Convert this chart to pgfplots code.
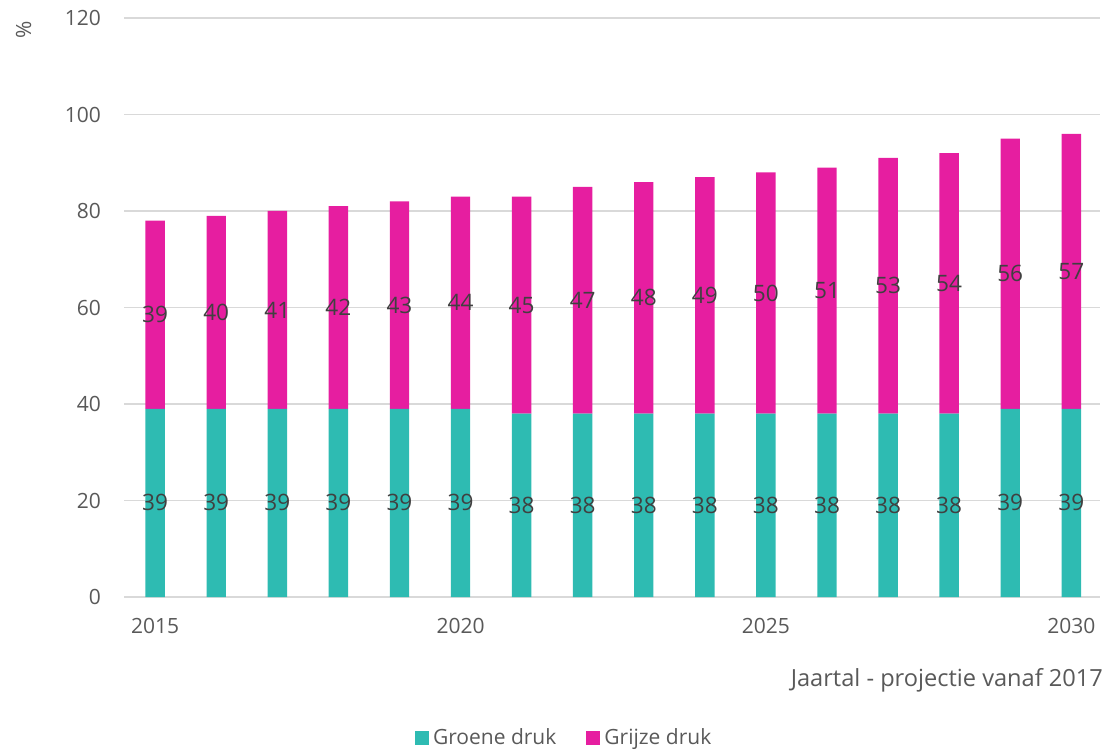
\documentclass[border=0pt]{standalone}
\usepackage{fontspec}
\setmainfont{Open Sans}
\usepackage{pgfplots}
\usepackage{pgfplotstable}
\pgfplotsset{compat=1.18}

\definecolor{groen}{HTML}{2EBBB2}
\definecolor{roze}{HTML}{E61EA0}
\definecolor{gridc}{HTML}{D9D9D9}
\definecolor{txt}{HTML}{595959}
\definecolor{lbl}{HTML}{404040}

% groene en grijze druk per jaar
\pgfplotstableread{
jaar g r
2015 39 39
2016 39 40
2017 39 41
2018 39 42
2019 39 43
2020 39 44
2021 38 45
2022 38 47
2023 38 48
2024 38 49
2025 38 50
2026 38 51
2027 38 53
2028 38 54
2029 39 56
2030 39 57
}\druk

\begin{document}
\begin{tikzpicture}[font=\fontsize{10.5}{12.6}\selectfont]
\path[use as bounding box] (0,0) rectangle (553.5pt,375pt);
\begin{axis}[
    at={(62pt,76.5pt)}, anchor=south west,
    scale only axis, width=488pt, height=289.5pt,
    ybar stacked, bar width=9.7pt,
    xmin=2014.49, xmax=2030.47, ymin=0, ymax=120,
    xtick={2015,2020,2025,2030}, ytick={0,20,...,120},
    ymajorgrids, grid style={gridc, line width=0.7pt},
    axis line style={draw=none}, tick style={draw=none},
    /pgf/number format/assume math mode=true,
    xticklabel style={/pgf/number format/1000 sep=, text=txt, yshift=-7pt},
    yticklabel style={text=txt, anchor=east, xshift=-8pt},
    point meta=explicit symbolic,
    nodes near coords={\pgfplotspointmeta},
    every node near coord/.append style={anchor=center, text=lbl,
        font=\fontsize{11.3}{13}\selectfont},
    legend style={at={(0.452,-0.2435)}, anchor=center, draw=none, fill=none,
        legend columns=2, text=txt,
        /tikz/every even column/.append style={column sep=13pt}},
    legend image code/.code={\fill[#1] (0pt,-3.5pt) rectangle (7pt,3.5pt);},
]
\addplot[fill=groen, draw=none] table[x=jaar, y=g, meta=g] {\druk};
\addlegendentry{Groene druk}
\addplot[fill=roze, draw=none] table[x=jaar, y=r, meta=r] {\druk};
\addlegendentry{Grijze druk}
\end{axis}
\node[anchor=east, text=txt, font=\fontsize{11.8}{14}\selectfont] at (555pt,35pt) {Jaartal - projectie vanaf 2017};
\node[rotate=90, text=txt] at (11.75pt,360pt) {\%};
\end{tikzpicture}
\end{document}
